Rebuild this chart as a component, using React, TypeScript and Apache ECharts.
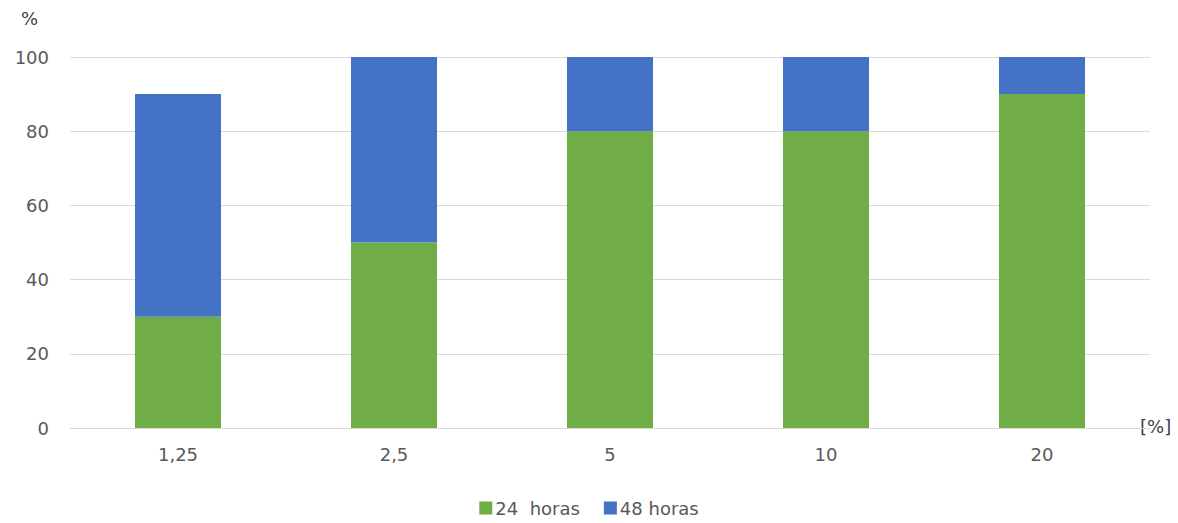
import React, { useEffect, useRef } from "react";
import * as echarts from "echarts";

const categories = ["1,25", "2,5", "5", "10", "20"];
const horas24 = [30, 50, 80, 80, 90];
const horas48 = [60, 50, 20, 20, 10];
const yTicks = { min: 0, max: 100, interval: 20 };

const FONT = "DejaVu Sans";
const TEXT = "#595959";
const SIZE = 18;

export default function App() {
  const ref = useRef<HTMLDivElement>(null);

  useEffect(() => {
    if (!ref.current) return;
    const chart = echarts.init(ref.current, null, { renderer: "svg" });
    chart.setOption({
      animation: false,
      backgroundColor: "#ffffff",
      textStyle: { fontFamily: FONT },
      grid: { left: 70, right: 28, top: 57, bottom: 95, containLabel: false },
      legend: {
        bottom: 1,
        left: "center",
        itemWidth: 13,
        itemHeight: 13,
        itemGap: 24,
        icon: "rect",
        textStyle: { color: TEXT, fontSize: SIZE, fontFamily: FONT, padding: [0, 0, 0, -2] },
        data: ["24  horas", "48 horas"],
      },
      xAxis: {
        type: "category",
        data: categories,
        axisLine: { lineStyle: { color: "#d9d9d9", width: 1 } },
        axisTick: { show: false },
        axisLabel: { color: TEXT, fontSize: SIZE, margin: 17, fontFamily: FONT },
      },
      yAxis: {
        type: "value",
        min: yTicks.min,
        max: yTicks.max,
        interval: yTicks.interval,
        axisLine: { show: false },
        axisTick: { show: false },
        axisLabel: { color: TEXT, fontSize: SIZE, margin: 21, fontFamily: FONT },
        splitLine: { lineStyle: { color: "#d9d9d9", width: 1 } },
      },
      graphic: [
        {
          type: "text",
          left: 21,
          top: 9,
          style: { text: "%", fill: "#404040", fontSize: SIZE, fontFamily: FONT },
        },
        {
          type: "text",
          left: 1140,
          top: 417,
          style: { text: "[%]", fill: "#404040", fontSize: SIZE, fontFamily: FONT },
        },
      ],
      series: [
        {
          name: "24  horas",
          type: "bar",
          stack: "total",
          barWidth: 86,
          itemStyle: { color: "#70AD47" },
          data: horas24,
        },
        {
          name: "48 horas",
          type: "bar",
          stack: "total",
          barWidth: 86,
          itemStyle: { color: "#4472C4" },
          data: horas48,
        },
      ],
    });
    return () => chart.dispose();
  }, []);

  return (
    <div
      ref={ref}
      style={{ position: "fixed", left: 0, top: 0, width: 1178, height: 523 }}
    />
  );
}
